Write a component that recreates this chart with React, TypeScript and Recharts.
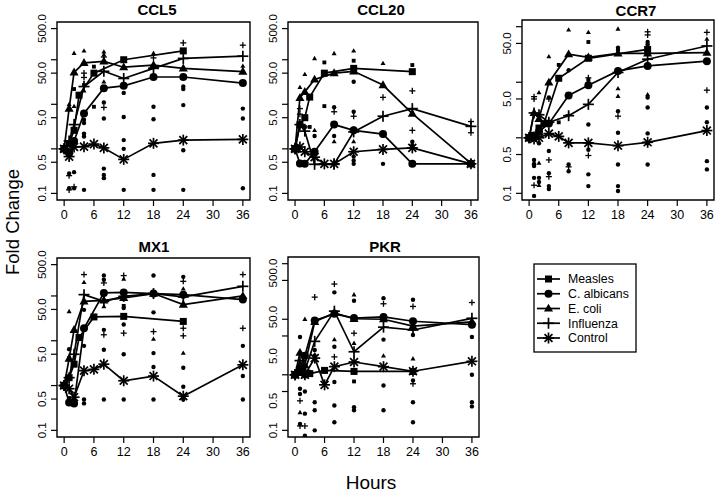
import React from 'react';
import { ComposedChart, Line, Scatter, XAxis, YAxis, ReferenceArea } from 'recharts';

// ---------- time points ----------
const measlesHours = [0, 1, 2, 3, 6, 12, 24];
const infectionHours = [0, 1, 2, 4, 8, 12, 18, 24, 36]; // C. albicans, E. coli, Influenza
const controlHours = [0, 1, 2, 4, 6, 8, 12, 18, 24, 36];

// ---------- axis ticks ----------
const hourTicks = [0, 6, 12, 18, 24, 30, 36];
const wideTicks = [0.1, 0.5, 1, 5, 10, 50, 100, 500];
const narrowTicks = [0.1, 0.5, 1, 5, 10, 50, 100];
const labelledTicks = [0.1, 0.5, 5, 50, 500];
const labelledText = ['0.1', '0.5', '5.0', '50.0', '500.0'];
const pkrLabelSpots = [0.1, 0.34, 2.18, 11, 68];
const pkrLabelText = ['0.1', '0.5', '5.0', '50.0', '500.0'];

// ---------- mean series (fold change) ----------
const ccl5Measles = [1, 1.3, 2.6, 16, 50, 100, 158];
const ccl5Calb = [1, 0.8, 1.5, 6.2, 23, 26, 41, 41, 30];
const ccl5Ecoli = [1, 8, 52, 85, 92, 68, 76, 64, 54];
const ccl5Flu = [1, 1.5, 3.5, 25, 55, 38, 64, 107, 120];
const ccl5Control = [1, 0.67, 1.1, 1.12, 1.28, 1.05, 0.58, 1.33, 1.57, 1.63];

const ccl20Measles = [1, 3.5, 5, 14.5, 50, 64, 54];
const ccl20Calb = [1, 0.47, 0.46, 0.86, 3.5, 2.6, 2.15, 0.46, 0.46];
const ccl20Ecoli = [1, 14, 19, 36, 50, 55, 27, 6.2, 0.47];
const ccl20Flu = [1, 3.5, 2.5, 0.45, 0.45, 2.4, 5.4, 8, 3.2];
const ccl20Control = [1, 1.1, 0.86, 0.65, 0.46, 0.46, 0.86, 0.97, 1.05, 0.46];

const ccr7Measles = [1, 1.1, 1.5, 1.8, 11.8, 27, 39];
const ccr7Calb = [1, 1.1, 1.3, 1.8, 5.8, 8.8, 16, 19.7, 24];
const ccr7Ecoli = [1, 2.8, 2.2, 9.9, 32, 28, 33, 33, 34];
const ccr7Flu = [1, 2.8, 2.6, 1.9, 2.5, 4.0, 15, 26, 45];
const ccr7Control = [1, 0.95, 1.0, 1.19, 1.06, 0.81, 0.81, 0.72, 0.83, 1.35];

const mx1Measles = [1, 1.5, 3, 11.8, 34, 35, 27];
const mx1Calb = [1, 0.42, 0.4, 19, 117, 120, 113, 107, 83];
const mx1Ecoli = [1, 4, 17.5, 76, 80, 90, 113, 64, 100];
const mx1Flu = [1, 1.5, 5, 107, 76, 98, 113, 95, 164];
const mx1Control = [1, 0.85, 0.55, 2.15, 2.3, 3.0, 1.28, 1.63, 0.58, 2.9];

const pkrMeasles = [1, 1.1, 1.0, 1.05, 1.2, 1.15, 1.15];
const pkrCalb = [1, 1.3, 2.2, 9.5, 12.5, 10.5, 11, 9.2, 8];
const pkrEcoli = [1, 2.5, 1.5, 9.0, 13, 10.2, 10, 7.5, 9];
const pkrFlu = [1, 1.8, 1.2, 4.0, 14, 2.6, 7.2, 6.4, 10.4];
const pkrControl = [1, 1.2, 1.0, 2.0, 0.66, 1.4, 1.7, 1.4, 1.16, 1.75];

// ---------- individual replicates [hour, fold change, series] ----------
const ccl5Reps = [
  [1, 0.28, 'C'], [1, 0.25, 'I'], [1, 0.13, 'C'], [1, 0.12, 'I'], [1, 10, 'E'],
  [2, 0.3, 'C'], [2, 0.13, 'C'], [2, 0.14, 'I'], [2, 140, 'E'], [2, 22, 'M'], [2, 9, 'E'],
  [4, 158, 'E'], [4, 50, 'I'], [4, 40, 'I'], [4, 27, 'M'], [4, 4.5, 'C'], [4, 3.8, 'C'], [4, 2.2, 'C'], [4, 1.9, 'C'], [4, 0.12, 'C'], [4, 20, 'E'],
  [6, 70, 'M'], [6, 8.8, 'M'],
  [8, 150, 'E'], [8, 130, 'E'], [8, 115, 'I'], [8, 11, 'C'], [8, 8.5, 'I'], [8, 4.8, 'C'], [8, 0.36, 'C'], [8, 0.26, 'C'], [8, 0.22, 'C'], [8, 32, 'E'],
  [12, 18, 'C'], [12, 5.2, 'C'], [12, 1.57, 'C'], [12, 1.0, 'C'], [12, 0.12, 'C'],
  [18, 110, 'I'], [18, 8.8, 'C'], [18, 4.6, 'C'], [18, 0.26, 'C'], [18, 0.12, 'C'], [18, 140, 'E'],
  [24, 239, 'I'], [24, 25, 'C'], [24, 22, 'C'], [24, 9.6, 'C'], [24, 0.93, 'C'], [24, 0.12, 'C'],
  [36, 212, 'I'], [36, 72, 'E'], [36, 8, 'C'], [36, 4.8, 'C'], [36, 0.13, 'C'],
];
const ccl20Reps = [
  [1, 24, 'E'], [1, 8, 'I'], [1, 6, 'I'], [2, 47, 'E'], [2, 3.1, 'I'], [2, 3.1, 'M'], [3, 3.1, 'M'],
  [4, 107, 'E'], [4, 2.6, 'E'], [4, 1.94, 'C'], [6, 87, 'M'], [6, 9.1, 'M'],
  [8, 138, 'E'], [8, 8.6, 'C'], [8, 6.8, 'I'], [8, 1.94, 'C'], [8, 1.45, 'E'],
  [12, 158, 'E'], [12, 95, 'M'], [12, 32, 'C'], [12, 6.8, 'C'], [12, 5.4, 'I'], [12, 0.67, 'C'], [12, 0.55, 'C'], [12, 0.46, 'C'], [12, 1.45, 'E'],
  [18, 83, 'E'], [18, 14.3, 'I'], [18, 2.0, 'C'], [18, 0.46, 'C'],
  [24, 76, 'M'], [24, 20, 'I'], [24, 2.6, 'I'], [24, 1.45, 'C'], [24, 1.2, 'C'], [24, 0.46, 'C'],
  [36, 4.1, 'I'], [36, 2.3, 'I'], [36, 0.46, 'C'],
];
const ccr7Reps = [
  [1, 5.5, 'I'], [1, 5.0, 'I'], [1, 0.4, 'C'], [1, 0.33, 'C'], [1, 0.31, 'C'], [1, 0.19, 'C'], [1, 0.14, 'I'], [1, 0.09, 'C'], [1, 0.36, 'E'],
  [2, 0.8, 'C'], [2, 0.35, 'E'], [2, 0.19, 'C'], [2, 0.16, 'C'], [2, 0.14, 'E'], [2, 6.5, 'E'],
  [4, 29, 'E'], [4, 5.3, 'C'], [4, 5.0, 'I'], [4, 0.58, 'C'], [4, 0.4, 'I'], [4, 0.23, 'C'], [4, 0.2, 'I'], [4, 0.135, 'C'], [4, 0.12, 'C'],
  [6, 20.5, 'M'], [6, 1.9, 'M'],
  [8, 88, 'E'], [8, 16.4, 'C'], [8, 2.6, 'I'], [8, 0.33, 'C'], [8, 0.3, 'I'], [8, 0.25, 'C'],
  [12, 79, 'E'], [12, 53, 'M'], [12, 12, 'I'], [12, 11, 'C'], [12, 1.74, 'C'], [12, 0.81, 'I'], [12, 0.61, 'C'], [12, 0.48, 'I'], [12, 0.22, 'C'], [12, 0.135, 'C'],
  [18, 91, 'E'], [18, 42, 'C'], [18, 38, 'C'], [18, 7.7, 'E'], [18, 5.6, 'E'], [18, 3.0, 'C'], [18, 2.45, 'I'], [18, 1.23, 'C'], [18, 0.33, 'C'], [18, 0.135, 'C'], [18, 0.11, 'C'],
  [24, 81, 'I'], [24, 71, 'I'], [24, 53, 'C'], [24, 48, 'C'], [24, 6.0, 'E'], [24, 5.3, 'C'], [24, 3.5, 'C'], [24, 1.2, 'C'], [24, 0.8, 'C'], [24, 0.33, 'C'],
  [36, 79, 'I'], [36, 60, 'E'], [36, 7.2, 'I'], [36, 3.5, 'C'], [36, 1.9, 'C'], [36, 0.38, 'C'], [36, 0.27, 'C'],
];
const mx1Reps = [
  [1, 45, 'E'], [1, 6.5, 'C'], [1, 4.2, 'C'], [1, 0.52, 'C'], [2, 0.45, 'C'], [2, 0.4, 'C'], [2, 0.49, 'C'],
  [4, 300, 'I'], [4, 202, 'E'], [4, 49, 'C'], [4, 7.7, 'C'], [4, 0.49, 'C'], [4, 0.4, 'C'],
  [8, 285, 'C'], [8, 195, 'I'], [8, 230, 'C'], [8, 17.5, 'C'], [8, 13.6, 'I'], [8, 6.3, 'C'], [8, 0.49, 'C'], [8, 58, 'E'],
  [12, 285, 'I'], [12, 240, 'E'], [12, 54, 'C'], [12, 23, 'C'], [12, 14.8, 'I'], [12, 5.0, 'C'], [12, 0.49, 'C'], [12, 60, 'M'],
  [18, 285, 'C'], [18, 107, 'I'], [18, 43, 'C'], [18, 16, 'I'], [18, 10.9, 'E'], [18, 5.3, 'C'], [18, 2.6, 'C'], [18, 0.49, 'C'],
  [24, 267, 'C'], [24, 212, 'I'], [24, 144, 'E'], [24, 26, 'C'], [24, 19, 'I'], [24, 12.9, 'I'], [24, 5.3, 'E'], [24, 2.5, 'C'], [24, 0.94, 'C'], [24, 0.49, 'C'],
  [36, 300, 'I'], [36, 19, 'I'], [36, 7.7, 'C'], [36, 1.63, 'C'], [36, 0.49, 'C'],
];
const pkrReps = [
  [1, 4.8, 'C'], [1, 0.56, 'C'], [1, 0.34, 'I'], [1, 0.21, 'E'], [1, 0.13, 'C'], [1, 0.12, 'I'], [1, 0.45, 'C'],
  [2, 10, 'E'], [2, 0.5, 'C'], [2, 0.2, 'C'], [2, 0.12, 'I'], [2, 0.08, 'C'],
  [4, 25, 'I'], [4, 2.8, 'C'], [4, 2.2, 'C'], [4, 0.32, 'C'], [4, 0.23, 'C'], [4, 0.1, 'C'],
  [8, 43, 'I'], [8, 30.5, 'C'], [8, 4.3, 'E'], [8, 3.2, 'C'], [8, 2.1, 'I'], [8, 0.74, 'C'], [8, 0.28, 'C'], [8, 0.14, 'C'],
  [12, 27.7, 'E'], [12, 21.5, 'C'], [12, 5.6, 'I'], [12, 3.7, 'E'], [12, 1.1, 'C'], [12, 0.76, 'M'], [12, 0.26, 'C'], [12, 0.23, 'C'],
  [18, 24, 'C'], [18, 19, 'I'], [18, 4.3, 'C'], [18, 2.2, 'E'], [18, 0.64, 'C'], [18, 0.23, 'C'],
  [24, 22.4, 'C'], [24, 17, 'I'], [24, 5.2, 'C'], [24, 1.95, 'E'], [24, 0.79, 'C'], [24, 0.69, 'I'], [24, 0.32, 'C'], [24, 0.14, 'C'],
  [36, 20, 'I'], [36, 4.8, 'C'], [36, 1.0, 'C'], [36, 0.32, 'C'], [36, 0.27, 'C'],
];

const legendNames = ['Measles', 'C. albicans', 'E. coli', 'Influenza', 'Control'];
const legendKinds = ['M', 'C', 'E', 'I', 'K'];

// ---------- helpers ----------
const FONT = '"Liberation Sans", Arial, Helvetica, sans-serif';
const X_DOMAIN = [-1.44, 37.44];
const WIDE_DOMAIN = [0.0711, 703];
const NARROW_DOMAIN = [0.0759, 132];
const YW = 46;
const XH = 32;
const PAD_TOP = 22;
const PAD_R = 3;

const pair = (hours: number[], vals: number[]) => hours.map((t, i) => ({ t, v: vals[i] }));
const reps = (rows: any[]) => rows.map((r) => ({ t: r[0], v: r[1], k: r[2] }));

function Mark({ kind, cx, cy, big }: any) {
  if (cx == null || cy == null || isNaN(cx) || isNaN(cy)) return <g />;
  const s = big ? 1 : 0.55;
  if (kind === 'M') {
    const a = 7 * s;
    return <rect x={cx - a / 2} y={cy - a / 2} width={a} height={a} fill="#000" />;
  }
  if (kind === 'C') return <circle cx={cx} cy={cy} r={4 * s} fill="#000" />;
  if (kind === 'E') {
    const a = 4.8 * s;
    return (
      <polygon
        points={`${cx},${cy - a} ${cx - a * 0.95},${cy + a * 0.65} ${cx + a * 0.95},${cy + a * 0.65}`}
        fill="#000"
      />
    );
  }
  const a = 5.5 * s;
  const sw = big ? 1.7 : 1.3;
  if (kind === 'I') {
    return (
      <g stroke="#000" strokeWidth={sw}>
        <line x1={cx - a} x2={cx + a} y1={cy} y2={cy} />
        <line x1={cx} x2={cx} y1={cy - a} y2={cy + a} />
      </g>
    );
  }
  const d = a * 0.72;
  return (
    <g stroke="#000" strokeWidth={sw}>
      <line x1={cx - a} x2={cx + a} y1={cy} y2={cy} />
      <line x1={cx} x2={cx} y1={cy - a} y2={cy + a} />
      <line x1={cx - d} x2={cx + d} y1={cy - d} y2={cy + d} />
      <line x1={cx - d} x2={cx + d} y1={cy + d} y2={cy - d} />
    </g>
  );
}

type PanelDef = {
  title: string;
  left: number;
  top: number;
  w: number;
  h: number;
  domain: number[];
  ticks: number[];
  showLabels: boolean;
  measles: number[];
  calb: number[];
  ecoli: number[];
  flu: number[];
  control: number[];
  reps: any[];
};

const panels: PanelDef[] = [
  { title: 'CCL5', left: 57, top: 22, w: 193, h: 178, domain: WIDE_DOMAIN, ticks: wideTicks, showLabels: true,
    measles: ccl5Measles, calb: ccl5Calb, ecoli: ccl5Ecoli, flu: ccl5Flu, control: ccl5Control, reps: ccl5Reps },
  { title: 'CCL20', left: 288, top: 22, w: 190, h: 178, domain: WIDE_DOMAIN, ticks: wideTicks, showLabels: true,
    measles: ccl20Measles, calb: ccl20Calb, ecoli: ccl20Ecoli, flu: ccl20Flu, control: ccl20Control, reps: ccl20Reps },
  { title: 'CCR7', left: 522, top: 20, w: 192, h: 180, domain: NARROW_DOMAIN, ticks: narrowTicks, showLabels: true,
    measles: ccr7Measles, calb: ccr7Calb, ecoli: ccr7Ecoli, flu: ccr7Flu, control: ccr7Control, reps: ccr7Reps },
  { title: 'MX1', left: 57, top: 258, w: 193, h: 179, domain: WIDE_DOMAIN, ticks: wideTicks, showLabels: true,
    measles: mx1Measles, calb: mx1Calb, ecoli: mx1Ecoli, flu: mx1Flu, control: mx1Control, reps: mx1Reps },
  { title: 'PKR', left: 288, top: 257, w: 191, h: 180, domain: NARROW_DOMAIN, ticks: narrowTicks, showLabels: false,
    measles: pkrMeasles, calb: pkrCalb, ecoli: pkrEcoli, flu: pkrFlu, control: pkrControl, reps: pkrReps },
];

const titlePos: Record<string, number[]> = {
  CCL5: [157, 15], CCL20: [381, 15], CCR7: [636, 16], MX1: [154, 252], PKR: [385, 252],
};

function yLabel(x: number, y: number, text: string) {
  return (
    <text x={x} y={y} transform={`rotate(-90 ${x} ${y})`} textAnchor="middle"
      fontFamily={FONT} fontSize={11.5} fill="#000">
      {text}
    </text>
  );
}

function Panel({ p }: { p: PanelDef }) {
  const width = YW + p.w + PAD_R;
  const height = PAD_TOP + p.h + XH;
  const labelX = YW - 11;
  const xTick = (props: any) => {
    const { x, payload } = props;
    return (
      <text x={x} y={PAD_TOP + p.h + 18.5} textAnchor="middle" fontFamily={FONT} fontSize={12.5} fill="#000">
        {payload.value}
      </text>
    );
  };
  const yTick = (props: any) => {
    const { y, payload } = props;
    if (!p.showLabels) return <g />;
    const idx = labelledTicks.indexOf(payload.value);
    if (idx < 0) return <g />;
    return yLabel(labelX, y, labelledText[idx]);
  };
  const pkrTick = (props: any) => {
    const { y, payload } = props;
    const idx = pkrLabelSpots.indexOf(payload.value);
    if (idx < 0) return <g />;
    return yLabel(labelX, y, pkrLabelText[idx]);
  };
  const dotFor = (kind: string) => (props: any) => (
    <Mark key={`d-${kind}-${props.index}`} kind={kind} cx={props.cx} cy={props.cy} big />
  );
  const series = [
    { kind: 'M', data: pair(measlesHours, p.measles) },
    { kind: 'C', data: pair(infectionHours, p.calb) },
    { kind: 'E', data: pair(infectionHours, p.ecoli) },
    { kind: 'I', data: pair(infectionHours, p.flu) },
    { kind: 'K', data: pair(controlHours, p.control) },
  ];
  const mainW = p.showLabels ? YW : YW - 1;
  return (
    <div style={{ position: 'absolute', left: p.left - YW, top: p.top - PAD_TOP }}>
      <ComposedChart width={width} height={height} margin={{ top: PAD_TOP, right: PAD_R, left: 0, bottom: 0 }}>
        <XAxis type="number" dataKey="t" domain={X_DOMAIN} ticks={hourTicks} interval={0} allowDataOverflow
          axisLine={false} tickSize={6} tickLine={{ stroke: '#000', strokeWidth: 1.2 }} tick={xTick} height={XH} />
        <YAxis type="number" scale="log" domain={p.domain} ticks={p.ticks} interval={0} allowDataOverflow
          width={mainW} axisLine={false} tickSize={6} tickLine={{ stroke: '#000', strokeWidth: 1.2 }} tick={yTick} />
        {!p.showLabels && (
          <YAxis yAxisId="lab" type="number" scale="log" domain={p.domain} ticks={pkrLabelSpots} interval={0}
            allowDataOverflow width={1} axisLine={false} tickLine={false} tick={pkrTick} />
        )}
        <ReferenceArea x1={X_DOMAIN[0]} x2={X_DOMAIN[1]} y1={p.domain[0]} y2={p.domain[1]}
          fill="none" fillOpacity={0} stroke="#000" strokeWidth={1.4} ifOverflow="visible" />
        <Scatter data={reps(p.reps)} dataKey="v" isAnimationActive={false} legendType="none"
          shape={(props: any) => <Mark kind={props.payload.k} cx={props.cx} cy={props.cy} big={false} />} />
        {series.map((s) => (
          <Line key={s.kind} data={s.data} dataKey="v" type="linear" stroke="#000" strokeWidth={1.7}
            dot={dotFor(s.kind)} activeDot={false} isAnimationActive={false} legendType="none" />
        ))}
      </ComposedChart>
    </div>
  );
}

export default function App() {
  const legendTop = 264;
  const rowH = 14.75;
  return (
    <div style={{ position: 'absolute', left: 0, top: 0, width: 718, height: 493, background: '#fff', overflow: 'hidden' }}>
      {panels.map((p) => (
        <Panel key={p.title} p={p} />
      ))}
      <svg width={718} height={493} style={{ position: 'absolute', left: 0, top: 0, pointerEvents: 'none' }}>
        {panels.map((p) => (
          <text key={p.title} x={titlePos[p.title][0]} y={titlePos[p.title][1]} textAnchor="middle"
            fontFamily={FONT} fontWeight="bold" fontSize={15} fill="#000">
            {p.title}
          </text>
        ))}
        <text x={19} y={222} transform="rotate(-90 19 222)" textAnchor="middle" fontFamily={FONT} fontSize={18.5} fill="#000">
          Fold Change
        </text>
        <text x={371} y={489} textAnchor="middle" fontFamily={FONT} fontSize={19} fill="#000">
          Hours
        </text>
        <rect x={534} y={legendTop} width={102} height={88} fill="#fff" stroke="#000" strokeWidth={1.3} />
        {legendNames.map((name, i) => {
          const y = legendTop + 15 + i * rowH;
          return (
            <g key={name}>
              <line x1={537} x2={560} y1={y} y2={y} stroke="#000" strokeWidth={1.7} />
              <Mark kind={legendKinds[i]} cx={548.5} cy={y} big />
              <text x={568} y={y + 4.4} fontFamily={FONT} fontSize={12.3} fill="#000">
                {name}
              </text>
            </g>
          );
        })}
      </svg>
    </div>
  );
}
